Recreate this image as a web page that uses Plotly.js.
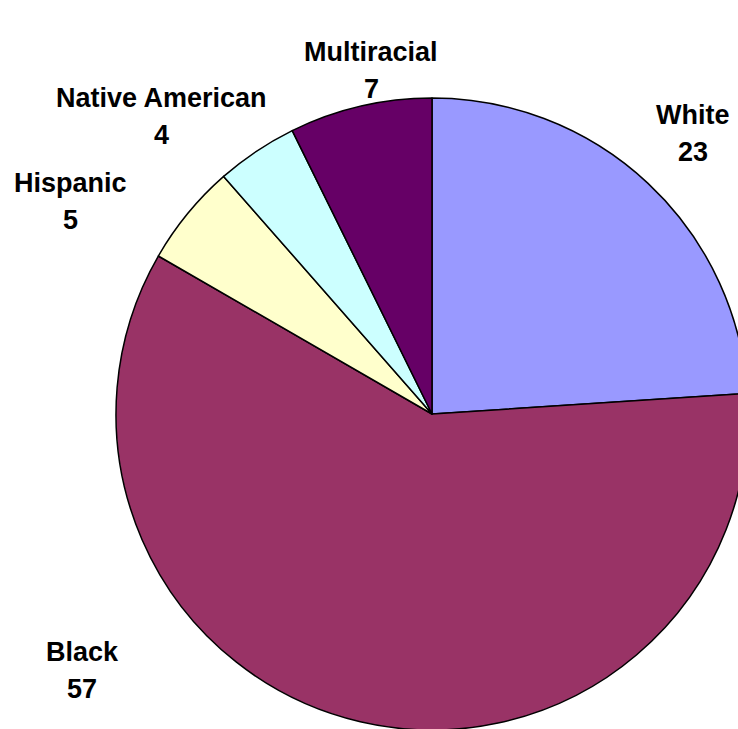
<!DOCTYPE html>
<html>
<head>
<meta charset="utf-8">
<script src="https://cdn.plot.ly/plotly-3.0.1.min.js"></script>
<style>
html,body{margin:0;padding:0;overflow:hidden;background:#fff;width:738px;height:729px;}
#chart{width:864px;height:828px;}
</style>
</head>
<body>
<div id="chart"></div>
<script>
const categories = ["White", "Black", "Hispanic", "Native American", "Multiracial"];
const values = [23, 57, 5, 4, 7];
const colors = ["#9999FF", "#993366", "#FFFFCC", "#CCFFFF", "#660066"];

// label anchor positions in pixels (page coordinates)
const labelPosX = [693, 82, 70, 161, 371];
const labelPosY = [115, 652, 183, 98, 52];
const valueGap = 37;

const W = 864, H = 828;
const cx = 432, cy = 414, R = 316;

const font = {family: "Liberation Sans, Arial, sans-serif", size: 27, color: "#000"};
const annotations = [];
categories.forEach((c, i) => {
  annotations.push({
    xref: "paper", yref: "paper",
    x: labelPosX[i] / W, y: (H - labelPosY[i]) / H,
    xanchor: "center", yanchor: "middle",
    text: "<b>" + c + "</b>", showarrow: false, font: font
  });
  annotations.push({
    xref: "paper", yref: "paper",
    x: labelPosX[i] / W, y: (H - labelPosY[i] - valueGap) / H,
    xanchor: "center", yanchor: "middle",
    text: "<b>" + values[i] + "</b>", showarrow: false, font: font
  });
});

Plotly.newPlot("chart", [{
  type: "pie",
  labels: categories,
  values: values,
  sort: false,
  direction: "clockwise",
  rotation: 0,
  textinfo: "none",
  hoverinfo: "none",
  marker: {colors: colors, line: {color: "#000", width: 1.5}},
  domain: {x: [(cx - R) / W, (cx + R) / W], y: [(H - cy - R) / H, (H - cy + R) / H]}
}], {
  width: W, height: H,
  margin: {l: 0, r: 0, t: 0, b: 0},
  showlegend: false,
  paper_bgcolor: "#fff",
  annotations: annotations
}, {staticPlot: true});
</script>
</body>
</html>
